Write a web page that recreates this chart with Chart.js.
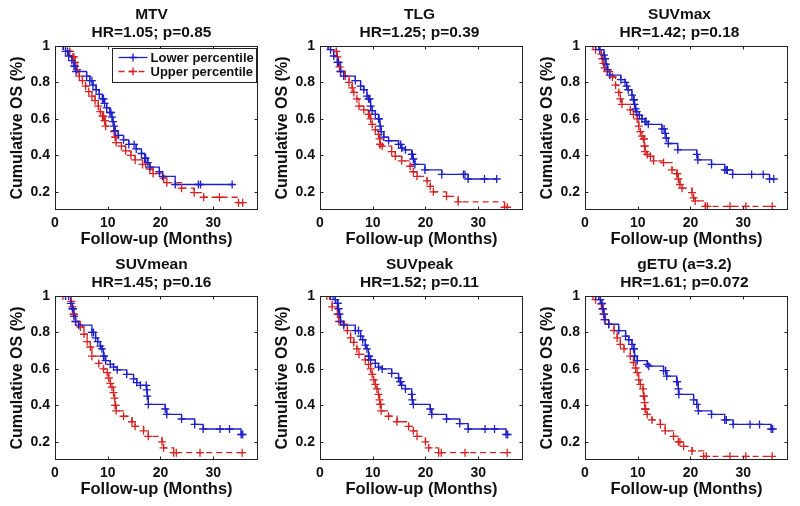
<!DOCTYPE html>
<html><head><meta charset="utf-8">
<script src="https://cdn.jsdelivr.net/npm/chart.js@4.4.1/dist/chart.umd.min.js"></script>
<style>
html,body{margin:0;padding:0;background:#fff;width:800px;height:506px;overflow:hidden}
.panel{position:absolute}
canvas{display:block}
</style></head><body>
<div id="wrap"></div>
<script>
// ---------- data ----------
const xTicks = [0, 10, 20, 30];
const xTickLabels = ['0', '10', '20', '30'];
const yTicks = [0.2, 0.4, 0.6, 0.8, 1];
const yTickLabels = ['0.2', '0.4', '0.6', '0.8', '1'];
const X_MIN = 0, X_MAX = 38.5, Y_MIN = 0.1, Y_MAX = 1;

const panelNames = ['MTV', 'TLG', 'SUVmax', 'SUVmean', 'SUVpeak', 'gETU (a=3.2)'];
const panelStats = ['HR=1.05; p=0.85', 'HR=1.25; p=0.39', 'HR=1.42; p=0.18',
                    'HR=1.45; p=0.16', 'HR=1.52; p=0.11', 'HR=1.61; p=0.072'];
const groupLabels = ['Lower percentile', 'Upper percentile'];
const xTitle = 'Follow-up (Months)';
const yTitle = 'Cumulative OS (%)';

// MTV
const mtvLowT = [1.6, 2.0, 2.6, 3.2, 3.6, 4.0, 6.0, 6.6, 7.2, 7.8, 8.4, 9.0, 9.4, 9.8, 10.4, 10.8, 11.0, 11.2, 11.4, 12.0, 13.0, 14.0, 15.4, 16.4, 17.0, 17.6, 18.0, 19.8, 20.4, 22.8];
const mtvLowS = [1, 0.97, 0.945, 0.92, 0.89, 0.86, 0.835, 0.81, 0.785, 0.76, 0.735, 0.71, 0.685, 0.66, 0.635, 0.61, 0.585, 0.56, 0.535, 0.51, 0.485, 0.46, 0.435, 0.41, 0.385, 0.36, 0.335, 0.31, 0.285, 0.24];
const mtvLowC = [2.4, 3.8, 7.0, 9.2, 10.6, 15.0, 17.2, 27.2, 27.6, 33.6];
const mtvUpT = [1.5, 2.8, 3.4, 3.8, 4.2, 4.6, 5.2, 5.8, 6.4, 7.0, 7.6, 8.2, 8.6, 9.0, 9.4, 9.6, 11.2, 11.4, 11.6, 12.6, 13.4, 14.4, 15.2, 16.6, 18.0, 18.6, 20.6, 21.2, 24.0, 26.4, 28.2, 34.8];
const mtvUpS = [1, 0.97, 0.94, 0.91, 0.87, 0.835, 0.81, 0.78, 0.75, 0.725, 0.70, 0.67, 0.64, 0.615, 0.59, 0.56, 0.53, 0.50, 0.47, 0.45, 0.425, 0.40, 0.375, 0.35, 0.325, 0.30, 0.275, 0.25, 0.22, 0.195, 0.17, 0.14];
const mtvUpC = [3.6, 9.2, 9.5, 11.5, 17.2, 31.2, 35.6];

// TLG
const tlgLowT = [1.5, 2.0, 2.6, 3.3, 3.9, 4.5, 6.7, 7.7, 8.3, 8.9, 9.2, 9.6, 9.9, 10.5, 11.1, 11.4, 11.6, 12.1, 13.0, 14.9, 15.5, 16.2, 17.4, 17.7, 18.0, 19.9, 23.1, 28.1];
const tlgLowS = [1, 0.98, 0.945, 0.91, 0.86, 0.835, 0.81, 0.78, 0.76, 0.725, 0.71, 0.67, 0.645, 0.625, 0.6, 0.56, 0.53, 0.5, 0.48, 0.46, 0.44, 0.43, 0.405, 0.38, 0.35, 0.32, 0.295, 0.27];
const tlgLowC = [3.5, 9.4, 11.2, 15.3, 17.5, 27.2, 27.5, 31.2, 33.5];
const tlgUpT = [1.6, 3.1, 3.3, 3.5, 3.7, 3.9, 4.8, 5.5, 6.1, 6.4, 7.0, 7.4, 8.3, 9.2, 9.6, 9.9, 10.5, 11.1, 11.3, 11.4, 11.8, 13.6, 14.3, 15.5, 17.1, 17.7, 18.4, 20.3, 20.9, 21.5, 24.0, 26.2, 35.0];
const tlgUpS = [1, 0.97, 0.94, 0.91, 0.885, 0.86, 0.835, 0.8, 0.77, 0.745, 0.71, 0.67, 0.65, 0.625, 0.6, 0.57, 0.54, 0.515, 0.49, 0.46, 0.45, 0.42, 0.395, 0.37, 0.34, 0.31, 0.285, 0.26, 0.23, 0.2, 0.175, 0.145, 0.115];
const tlgUpC = [9.4, 11.4, 35.5];

// SUVmax
const suvmaxLowT = [2.0, 2.8, 3.6, 3.8, 4.0, 4.3, 4.7, 6.8, 7.6, 7.9, 8.2, 8.9, 9.2, 9.4, 9.6, 9.8, 10.3, 10.8, 11.4, 12.0, 14.6, 15.2, 15.4, 15.8, 17.6, 21.2, 21.4, 24.0, 26.5, 28.0, 35.0];
const suvmaxLowS = [1, 0.98, 0.95, 0.93, 0.9, 0.87, 0.84, 0.815, 0.8, 0.78, 0.76, 0.73, 0.705, 0.68, 0.655, 0.64, 0.62, 0.6, 0.585, 0.57, 0.545, 0.52, 0.495, 0.465, 0.43, 0.405, 0.375, 0.35, 0.32, 0.295, 0.27];
const suvmaxLowC = [2.6, 9.3, 11.6, 15.0, 26.8, 27.0, 31.6, 33.8, 35.8];
const suvmaxUpT = [1.5, 2.0, 3.1, 3.3, 3.5, 3.7, 4.2, 5.2, 5.8, 6.4, 6.7, 7.0, 8.6, 9.2, 9.9, 10.2, 10.5, 10.8, 11.1, 11.3, 11.4, 11.8, 12.4, 13.0, 14.9, 16.5, 17.4, 17.7, 18.0, 18.4, 20.3, 20.6, 20.9, 22.8];
const suvmaxUpS = [1, 0.98, 0.955, 0.93, 0.905, 0.88, 0.86, 0.83, 0.785, 0.745, 0.71, 0.68, 0.65, 0.625, 0.6, 0.56, 0.53, 0.505, 0.49, 0.45, 0.42, 0.405, 0.395, 0.37, 0.36, 0.32, 0.3, 0.27, 0.24, 0.22, 0.195, 0.167, 0.15, 0.12];
const suvmaxUpC = [11.2, 11.3, 17.5, 23.2, 27.5, 30.5, 35.5];

// SUVmean
const suvmeanLowT = [2.0, 3.0, 3.3, 3.6, 3.9, 4.5, 7.0, 7.7, 8.1, 8.6, 8.9, 9.2, 9.6, 10.5, 11.1, 11.8, 13.6, 14.9, 15.5, 16.2, 17.4, 17.5, 17.7, 20.9, 21.2, 24.0, 26.5, 28.1, 35.3];
const suvmeanLowS = [1, 0.96, 0.93, 0.89, 0.86, 0.84, 0.8, 0.77, 0.75, 0.725, 0.71, 0.67, 0.645, 0.625, 0.61, 0.595, 0.57, 0.545, 0.525, 0.51, 0.485, 0.45, 0.405, 0.38, 0.35, 0.325, 0.295, 0.27, 0.24];
const suvmeanLowC = [2.6, 3.4, 7.3, 9.3, 17.3, 31.3, 33.1, 35.6];
const suvmeanUpT = [1.5, 3.1, 3.3, 3.5, 3.9, 4.8, 5.5, 6.1, 6.7, 7.0, 8.3, 9.2, 9.9, 10.2, 10.5, 10.8, 11.1, 11.3, 11.4, 11.6, 13.0, 14.6, 15.2, 16.8, 17.7, 20.3, 20.6, 22.5];
const suvmeanUpS = [1, 0.97, 0.94, 0.9, 0.86, 0.83, 0.79, 0.75, 0.72, 0.67, 0.63, 0.6, 0.58, 0.55, 0.52, 0.5, 0.47, 0.44, 0.4, 0.37, 0.34, 0.31, 0.285, 0.26, 0.23, 0.2, 0.167, 0.14];
const suvmeanUpC = [2.0, 3.6, 11.5, 23.0, 27.5, 35.5];

// SUVpeak
const suvpeakLowT = [2.0, 2.9, 3.3, 3.5, 3.7, 3.9, 4.5, 6.7, 7.7, 8.1, 8.6, 8.9, 9.2, 9.6, 10.5, 11.1, 11.8, 13.6, 14.9, 15.2, 15.5, 16.2, 17.4, 17.5, 17.7, 20.9, 21.2, 24.0, 26.5, 28.1, 35.3];
const suvpeakLowS = [1, 0.98, 0.96, 0.93, 0.9, 0.86, 0.84, 0.81, 0.78, 0.76, 0.73, 0.71, 0.67, 0.65, 0.63, 0.61, 0.6, 0.575, 0.55, 0.53, 0.51, 0.49, 0.46, 0.43, 0.405, 0.38, 0.35, 0.325, 0.3, 0.27, 0.24];
const suvpeakLowC = [2.5, 3.4, 7.3, 9.3, 15.3, 31.3, 33.1, 35.6];
const suvpeakUpT = [1.3, 2.3, 3.3, 3.6, 4.5, 5.2, 5.8, 6.4, 7.0, 7.4, 8.6, 9.2, 9.6, 9.9, 10.2, 10.5, 10.8, 11.1, 11.3, 11.4, 11.6, 13.0, 14.6, 16.8, 17.7, 18.4, 20.0, 20.6, 22.5];
const suvpeakUpS = [1, 0.94, 0.9, 0.86, 0.845, 0.81, 0.77, 0.745, 0.71, 0.68, 0.65, 0.625, 0.6, 0.57, 0.54, 0.515, 0.49, 0.46, 0.43, 0.405, 0.37, 0.34, 0.31, 0.285, 0.26, 0.23, 0.2, 0.167, 0.14];
const suvpeakUpC = [1.8, 3.5, 11.5, 23.0, 27.5, 35.5];

// gETU
const getuLowT = [2.0, 2.9, 3.2, 3.4, 3.6, 3.8, 4.5, 6.4, 7.7, 8.3, 8.9, 9.2, 9.4, 9.9, 11.8, 12.1, 14.9, 15.5, 17.4, 17.7, 17.8, 20.6, 21.2, 21.5, 24.0, 26.5, 28.1, 35.3];
const getuLowS = [1, 0.98, 0.96, 0.93, 0.9, 0.87, 0.845, 0.81, 0.78, 0.76, 0.735, 0.71, 0.67, 0.645, 0.625, 0.615, 0.59, 0.56, 0.53, 0.49, 0.46, 0.43, 0.405, 0.37, 0.35, 0.32, 0.295, 0.27];
const getuLowC = [2.6, 9.3, 15.3, 17.5, 26.8, 31.3, 33.1, 35.6];
const getuUpT = [1.5, 2.0, 3.1, 3.3, 3.5, 3.7, 4.5, 5.5, 6.1, 6.7, 7.4, 8.6, 9.2, 9.6, 9.9, 10.2, 10.5, 11.0, 11.1, 11.3, 11.4, 11.8, 12.7, 14.3, 15.2, 16.8, 17.7, 18.7, 20.3, 22.5];
const getuUpS = [1, 0.98, 0.955, 0.93, 0.9, 0.87, 0.845, 0.81, 0.77, 0.735, 0.71, 0.67, 0.635, 0.605, 0.58, 0.54, 0.515, 0.49, 0.45, 0.415, 0.38, 0.35, 0.32, 0.295, 0.26, 0.23, 0.2, 0.175, 0.15, 0.12];
const getuUpC = [11.2, 11.5, 18.0, 23.0, 27.5, 30.5, 35.5];

// ---------- build ----------
const BLUE = '#1f1fc8', RED = '#d62222', TXT = '#111';
const FONT = "'Liberation Sans', Arial, Helvetica, sans-serif";

const curves = [
  [[mtvLowT, mtvLowS, mtvLowC], [mtvUpT, mtvUpS, mtvUpC]],
  [[tlgLowT, tlgLowS, tlgLowC], [tlgUpT, tlgUpS, tlgUpC]],
  [[suvmaxLowT, suvmaxLowS, suvmaxLowC], [suvmaxUpT, suvmaxUpS, suvmaxUpC]],
  [[suvmeanLowT, suvmeanLowS, suvmeanLowC], [suvmeanUpT, suvmeanUpS, suvmeanUpC]],
  [[suvpeakLowT, suvpeakLowS, suvpeakLowC], [suvpeakUpT, suvpeakUpS, suvpeakUpC]],
  [[getuLowT, getuLowS, getuLowC], [getuUpT, getuUpS, getuUpC]]
];

function stepAt(T, S, t) {
  let v = S[0];
  for (let i = 0; i < T.length; i++) if (T[i] <= t) v = S[i];
  return v;
}
function lineData(T, S, C) {
  const pts = T.map((t, i) => ({x: t, y: S[i]}));
  const end = Math.max(...C);
  if (end > T[T.length - 1]) pts.push({x: end, y: S[S.length - 1]});
  return pts;
}
function markData(T, S, C) {
  const pts = T.map((t, i) => ({x: t, y: S[i]}));
  C.forEach(c => pts.push({x: c, y: stepAt(T, S, c)}));
  return pts;
}

const framePlugin = {
  id: 'frame',
  afterDraw(chart) {
    const {ctx, chartArea: a, scales} = chart;
    ctx.save();
    ctx.strokeStyle = '#222';
    ctx.lineWidth = 1;
    const L = Math.round(a.left) + 0.5, R = Math.round(a.right) - 0.5;
    const T = Math.round(a.top) + 0.5, B = Math.round(a.bottom) - 0.5;
    ctx.strokeRect(L, T, R - L, B - T);
    ctx.beginPath();
    const tl = 3;
    xTicks.forEach(v => {
      const x = Math.round(scales.x.getPixelForValue(v)) + 0.5;
      ctx.moveTo(x, B); ctx.lineTo(x, B - tl);
      ctx.moveTo(x, T); ctx.lineTo(x, T + tl);
    });
    yTicks.forEach(v => {
      const y = Math.round(scales.y.getPixelForValue(v)) + 0.5;
      ctx.moveTo(L, y); ctx.lineTo(L + tl, y);
      ctx.moveTo(R, y); ctx.lineTo(R - tl, y);
    });
    ctx.stroke();
    ctx.restore();
  }
};

const titlePlugin = {
  id: 'panelTitle',
  afterDraw(chart, args, opts) {
    const {ctx, chartArea: a} = chart;
    const cx = (a.left + a.right) / 2 + (opts.dx || 0);
    ctx.save();
    ctx.fillStyle = TXT;
    ctx.textAlign = 'center';
    ctx.textBaseline = 'middle';
    ctx.font = 'bold 15.5px ' + FONT;
    ctx.fillText(opts.name, cx, a.top - 31);
    ctx.fillText(opts.stats, cx, a.top - 13);
    ctx.restore();
  }
};

const legendPlugin = {
  id: 'boxLegend',
  afterDraw(chart, args, opts) {
    if (!opts.show) return;
    const {ctx, chartArea: a} = chart;
    const right = Math.round(a.right) - 1.5, left = Math.round(a.left) + 57.5;
    const top = Math.round(a.top) + 2.5, h = 34;
    ctx.save();
    ctx.fillStyle = '#fff';
    ctx.fillRect(left, top, right - left, h);
    ctx.strokeStyle = '#222';
    ctx.lineWidth = 1;
    ctx.strokeRect(left, top, right - left, h);
    const rows = [[BLUE, [], groupLabels[0]], [RED, [6, 4], groupLabels[1]]];
    rows.forEach((r, i) => {
      const y = top + 9 + i * 14;
      const x0 = left + 6, x1 = left + 35;
      ctx.strokeStyle = r[0];
      ctx.lineWidth = 1.3;
      ctx.setLineDash(r[1]);
      ctx.beginPath(); ctx.moveTo(x0, y); ctx.lineTo(x1, y); ctx.stroke();
      ctx.setLineDash([]);
      const mx = (x0 + x1) / 2;
      ctx.beginPath(); ctx.moveTo(mx - 4, y); ctx.lineTo(mx + 4, y);
      ctx.moveTo(mx, y - 4); ctx.lineTo(mx, y + 4); ctx.stroke();
      ctx.fillStyle = TXT;
      ctx.font = 'bold 13px ' + FONT;
      ctx.textAlign = 'left';
      ctx.textBaseline = 'middle';
      ctx.fillText(r[2], left + 38, y + 0.5);
    });
    ctx.restore();
  }
};

const layout = [
  {left: 0, top: 0, w: 265, dx: -5}, {left: 265, top: 0, w: 265, dx: -2}, {left: 530, top: 0, w: 270, dx: -7},
  {left: 0, top: 250, w: 265, dx: -5}, {left: 265, top: 250, w: 265, dx: -2}, {left: 530, top: 250, w: 270, dx: -2}
];

const wrap = document.getElementById('wrap');
layout.forEach((p, k) => {
  const div = document.createElement('div');
  div.className = 'panel';
  div.style.left = p.left + 'px'; div.style.top = p.top + 'px';
  const cv = document.createElement('canvas');
  cv.width = p.w; cv.height = 250;
  cv.style.width = p.w + 'px'; cv.style.height = '250px';
  div.appendChild(cv); wrap.appendChild(div);

  const [low, up] = curves[k];
  new Chart(cv, {
    type: 'line',
    data: {
      datasets: [
        {label: groupLabels[0], data: lineData(...low), stepped: true, borderColor: BLUE, borderWidth: 1.3, pointRadius: 0, fill: false, order: 2},
        {label: groupLabels[1], data: lineData(...up), stepped: true, borderColor: RED, borderDash: [6, 4], borderWidth: 1.3, pointRadius: 0, fill: false, order: 1},
        {label: groupLabels[0] + ' marks', data: markData(...low), showLine: false, pointStyle: 'cross', pointRadius: 4, borderColor: BLUE, pointBorderWidth: 1.3, order: 0},
        {label: groupLabels[1] + ' marks', data: markData(...up), showLine: false, pointStyle: 'cross', pointRadius: 4, borderColor: RED, pointBorderWidth: 1.3, order: 0}
      ]
    },
    options: {
      responsive: false, animation: false, events: [],
      layout: {padding: {left: 0, right: p.w - 258, top: 46, bottom: 0}},
      plugins: {
        legend: {display: false}, tooltip: {enabled: false}, title: {display: false},
        panelTitle: {name: panelNames[k], stats: panelStats[k], dx: p.dx},
        boxLegend: {show: k === 0}
      },
      scales: {
        x: {
          type: 'linear', min: X_MIN, max: X_MAX,
          afterBuildTicks: s => { s.ticks = xTicks.map(v => ({value: v})); },
          afterFit: s => { s.height = 40; },
          grid: {display: false, drawTicks: false}, border: {display: false},
          ticks: {autoSkip: false, maxRotation: 0, padding: 5, color: TXT, font: {family: FONT, size: 14, weight: 'bold'},
                  callback: (v, i) => xTickLabels[i]},
          title: {display: true, text: xTitle, color: TXT, font: {family: FONT, size: 16.5, weight: 'bold'}, padding: {top: 0, bottom: 1}}
        },
        y: {
          type: 'linear', min: Y_MIN, max: Y_MAX,
          afterBuildTicks: s => { s.ticks = yTicks.map(v => ({value: v})); },
          afterFit: s => { s.width = 55; },
          grid: {display: false, drawTicks: false}, border: {display: false},
          ticks: {autoSkip: false, padding: 5, color: TXT, font: {family: FONT, size: 14, weight: 'bold'},
                  callback: (v, i) => yTickLabels[i]},
          title: {display: true, text: yTitle, color: TXT, font: {family: FONT, size: 16, weight: 'bold'}, padding: {top: 8, bottom: 0}}
        }
      }
    },
    plugins: [framePlugin, titlePlugin, legendPlugin]
  });
});
</script>
</body></html>
